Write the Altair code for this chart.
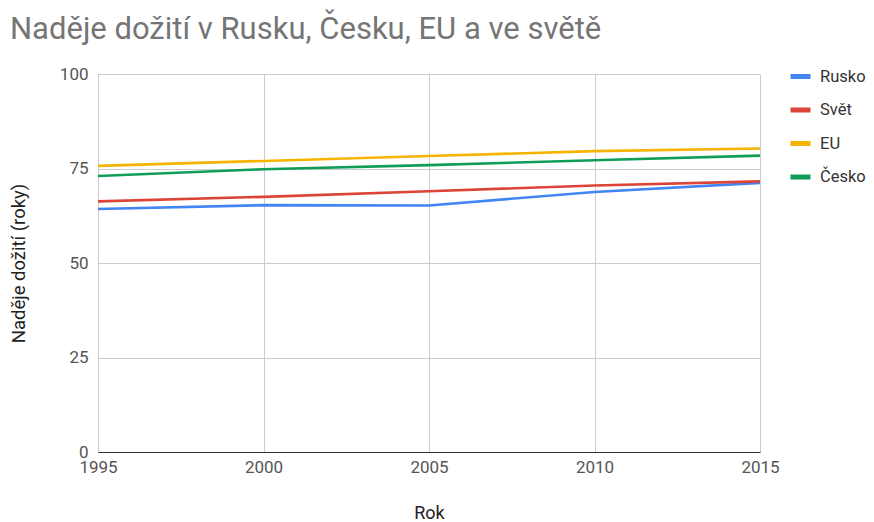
import altair as alt
import pandas as pd

years = [1995, 2000, 2005, 2010, 2015]
rusko = [64.3, 65.3, 65.2, 68.8, 71.2]
svet = [66.3, 67.5, 69.0, 70.5, 71.6]
eu = [75.7, 77.0, 78.3, 79.6, 80.3]
cesko = [73.0, 74.8, 75.9, 77.2, 78.4]

series = ["Rusko", "Svět", "EU", "Česko"]
colors = ["#4285F4", "#DB4437", "#F4B400", "#0F9D58"]

rows = []
for name, vals in zip(series, [rusko, svet, eu, cesko]):
    for y, v in zip(years, vals):
        rows.append({"Rok": y, "Hodnota": v, "Řada": name})
df = pd.DataFrame(rows)

FONT = "Roboto"

chart = alt.Chart(df).mark_line(strokeWidth=2.6).encode(
    x=alt.X("Rok:Q",
            scale=alt.Scale(domain=[1995, 2015], nice=False, zero=False),
            axis=alt.Axis(values=[1995, 2000, 2005, 2010, 2015], format="d",
                          title="Rok", titleY=61, titleBaseline="middle",
                          titleFontWeight="normal", titleFontSize=18, titleColor="#222",
                          labelFontSize=17, labelColor="#555", labelPadding=7,
                          labelFlush=False,
                          ticks=False, domainColor="#333", domainWidth=1,
                          grid=True, gridColor="#ccc")),
    y=alt.Y("Hodnota:Q",
            scale=alt.Scale(domain=[0, 100], nice=False),
            axis=alt.Axis(values=[0, 25, 50, 75, 100],
                          title="Naděje dožití (roky)", titleX=-80, titleY=189,
                          titleAlign="center", titleBaseline="middle",
                          titleFontWeight="normal", titleFontSize=18.5, titleColor="#222",
                          labelFontSize=17, labelColor="#555", labelPadding=10,
                          ticks=False, domain=False, grid=True, gridColor="#ccc")),
    color=alt.Color("Řada:N",
                    scale=alt.Scale(domain=series, range=colors),
                    sort=series,
                    legend=alt.Legend(title=None, orient="none", legendX=690, legendY=-10,
                                      symbolType="stroke", symbolStrokeWidth=5, symbolSize=400,
                                      labelFontSize=16.5, labelColor="#333", rowPadding=10.5,
                                      labelOffset=7)),
).properties(
    width=662, height=378,
    title=alt.TitleParams("Naděje dožití v Rusku, Česku, EU a ve světě",
                          anchor="start", frame="group", dx=-88, dy=-14, fontSize=31,
                          fontWeight="normal", color="#757575", font=FONT),
    autosize=alt.AutoSizeParams(type="none"),
    padding={"left": 90, "top": 66, "right": 106, "bottom": 68},
).configure(font=FONT).configure_view(stroke=None)

chart.save("out.html", embed_options={"renderer": "svg", "actions": False})
